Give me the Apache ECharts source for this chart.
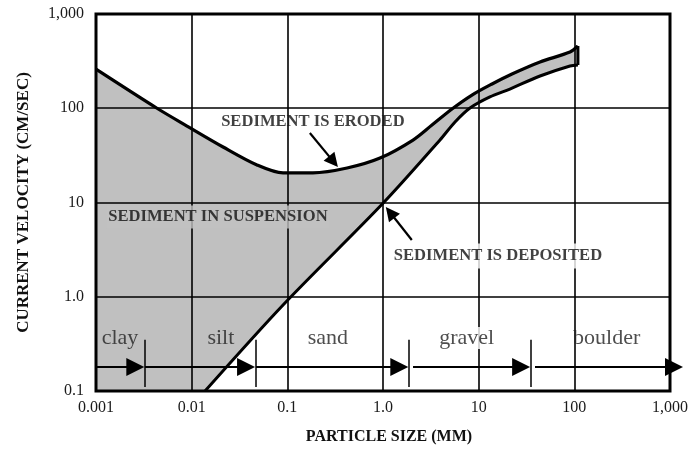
<!DOCTYPE html>
<html>
<head>
<meta charset="utf-8">
<script src="https://cdn.jsdelivr.net/npm/echarts@6/dist/echarts.min.js"></script>
<style>html,body{margin:0;padding:0;background:#fff}#c{width:698px;height:454px}</style>
</head>
<body>
<div id="c"></div>
<script>
const xTickLabels = ['0.001','0.01','0.1','1.0','10','100','1,000'];
const yTickLabels = ['0.1','1.0','10','100','1,000'];

// Erosion (upper) curve
const erosionX = [0.001, 0.00434, 0.00893, 0.0213, 0.0482, 0.0902, 0.185, 0.421, 0.931, 2.06, 3.25, 5.26, 8.51, 13.8, 22.3, 43.8, 90.1, 109];
const erosionY = [260, 100, 64.8, 38.8, 25.0, 20.6, 20.6, 23.2, 29.6, 46, 66.4, 98.2, 138, 181, 231, 310, 395, 458];

// Deposition (lower) curve
const depositionX = [0.0138, 0.0902, 1.0, 3.94, 5.66, 8.12, 13.1, 21.2, 43.8, 90.1, 109];
const depositionY = [0.1, 0.818, 9.8, 46, 71.5, 100.6, 132, 160, 220, 281, 288];

// Particle size classes
const classNames = ['clay', 'silt', 'sand', 'gravel', 'boulder'];
const classLabelX = [0.00178, 0.0202, 0.265, 7.5, 218];
const classLabelY = 0.365;
const classBoundaries = [0.00325, 0.047, 1.87, 35.2];
const classSegStart = [0.001, 0.00325, 0.047, 2.06, 38.8];
const classSegEnd = [0.0032, 0.046, 1.84, 34.5, 1367];
const classLineY = 0.18;
const boundaryTickY = [0.11, 0.35];

// Annotations
const noteTexts = ['SEDIMENT IS ERODED', 'SEDIMENT IN SUSPENSION', 'SEDIMENT IS DEPOSITED'];
const noteX = [0.185, 0.0188, 15.9];
const noteY = [71.5, 7.0, 2.7];
const noteArrowFrom = [[0.172, 54.6], [2.0, 4.0]];
const noteArrowTo = [[0.338, 23.8], [1.07, 8.95]];

const serif = 'Liberation Serif';
const fillGray = '#c0c0c0';
const classHead = 18;
const noteHead = 14;

const polyX = erosionX.concat(depositionX.slice().reverse(), [0.001]);
const polyY = erosionY.concat(depositionY.slice().reverse(), [0.1]);

const chart = echarts.init(document.getElementById('c'));
const idx = v => Math.round(Math.log10(v));

function buildOption(classSegs, noteSegs) {
  return {
    animation: false,
    backgroundColor: '#fff',
    grid: { left: 96, right: 28, top: 14, bottom: 63, show: true, borderColor: '#000', borderWidth: 3, backgroundColor: 'transparent' },
    xAxis: {
      type: 'log', logBase: 10, min: 0.001, max: 1000,
      name: 'PARTICLE SIZE (MM)', nameLocation: 'middle', nameGap: 38,
      nameTextStyle: { fontFamily: serif, fontWeight: 'bold', fontSize: 16, color: '#111', padding: [0, 0, 0, 12] },
      axisLine: { show: false }, axisTick: { show: false },
      axisLabel: { fontFamily: serif, fontSize: 16, color: '#1a1a1a', margin: 9,
        formatter: v => xTickLabels[idx(v) + 3] },
      splitLine: { show: true, lineStyle: { color: '#000', width: 1.6 } }
    },
    yAxis: {
      type: 'log', logBase: 10, min: 0.1, max: 1000,
      name: 'CURRENT VELOCITY (CM/SEC)', nameLocation: 'middle', nameGap: 64, nameRotate: 90,
      nameTextStyle: { fontFamily: serif, fontWeight: 'bold', fontSize: 17, color: '#111' },
      axisLine: { show: false }, axisTick: { show: false },
      axisLabel: { fontFamily: serif, fontSize: 16, color: '#1a1a1a', margin: 12,
        formatter: v => yTickLabels[idx(v) + 1] },
      splitLine: { show: true, lineStyle: { color: '#000', width: 1.6 } }
    },
    series: [
      {
        type: 'custom', coordinateSystem: 'cartesian2d', z: -1, silent: true,
        data: [[0.001, 0.1]],
        renderItem: (params, api) => ({
          type: 'polygon',
          shape: { points: polyX.map((x, i) => api.coord([x, polyY[i]])), smooth: 0 },
          style: { fill: fillGray }
        })
      },
      {
        type: 'line', data: erosionX.map((x, i) => [x, erosionY[i]]), showSymbol: false, smooth: 0.3,
        lineStyle: { color: '#000', width: 3.2 }, z: 3
      },
      {
        type: 'line', data: depositionX.map((x, i) => [x, depositionY[i]]), showSymbol: false, smooth: 0.3,
        lineStyle: { color: '#000', width: 3 }, z: 3
      },
      {
        type: 'line', data: [[erosionX[erosionX.length - 1], erosionY[erosionY.length - 1]], [depositionX[depositionX.length - 1], depositionY[depositionY.length - 1]]],
        showSymbol: false, lineStyle: { color: '#000', width: 3 }, z: 3
      },
      {
        type: 'lines', coordinateSystem: 'cartesian2d', clip: false, z: 4,
        symbol: ['none', 'triangle'], symbolSize: classHead,
        lineStyle: { color: '#000', width: 2, opacity: 1 },
        data: classSegs.map(c => ({ coords: c }))
      },
      {
        type: 'lines', coordinateSystem: 'cartesian2d', clip: false, z: 4,
        symbol: ['none', 'none'],
        lineStyle: { color: '#000', width: 1.5, opacity: 1 },
        data: classBoundaries.map(b => ({ coords: [[b, boundaryTickY[0]], [b, boundaryTickY[1]]] }))
      },
      {
        type: 'lines', coordinateSystem: 'cartesian2d', z: 4,
        symbol: ['none', 'triangle'], symbolSize: noteHead,
        lineStyle: { color: '#000', width: 2.2, opacity: 1 },
        data: noteSegs.map(c => ({ coords: c }))
      },
      {
        type: 'scatter', symbolSize: 0, z: 5, silent: true,
        data: classNames.map((n, i) => ({
          name: n, value: [classLabelX[i], classLabelY],
          label: n === 'gravel' ? { backgroundColor: '#fff', padding: [0, 3] } : {}
        })),
        label: { show: true, position: 'inside', formatter: p => p.name,
          fontFamily: serif, fontSize: 22, color: '#222' }
      },
      {
        type: 'scatter', symbolSize: 0, z: 5, silent: true,
        data: noteTexts.map((n, i) => ({
          name: n, value: [noteX[i], noteY[i]],
          label: i === 1 ? { backgroundColor: fillGray, padding: [3, 2] } : (i === 2 ? { backgroundColor: '#fff', padding: [4, 3] } : {})
        })),
        label: { show: true, position: 'inside', formatter: p => p.name,
          fontFamily: serif, fontSize: 16.6, fontWeight: 'bold', color: '#111' }
      }
    ]
  };
}

const classSegsRaw = classSegStart.map((s, i) => [[s, classLineY], [classSegEnd[i], classLineY]]);
const noteSegsRaw = noteArrowFrom.map((f, i) => [f, noteArrowTo[i]]);
chart.setOption(buildOption(classSegsRaw, noteSegsRaw));

// pull each arrow end back so that the arrowhead's tip (not its centre) sits at the end point
function pullBack(seg, head) {
  const a = chart.convertToPixel({ gridIndex: 0 }, seg[0]);
  const b = chart.convertToPixel({ gridIndex: 0 }, seg[1]);
  const dx = b[0] - a[0], dy = b[1] - a[1];
  const len = Math.hypot(dx, dy);
  const k = (len - head / 2) / len;
  const nb = [a[0] + dx * k, a[1] + dy * k];
  return [seg[0], chart.convertFromPixel({ gridIndex: 0 }, nb)];
}
chart.setOption(buildOption(classSegsRaw.map(s => pullBack(s, classHead)), noteSegsRaw.map(s => pullBack(s, noteHead))), true);
</script>
</body>
</html>
